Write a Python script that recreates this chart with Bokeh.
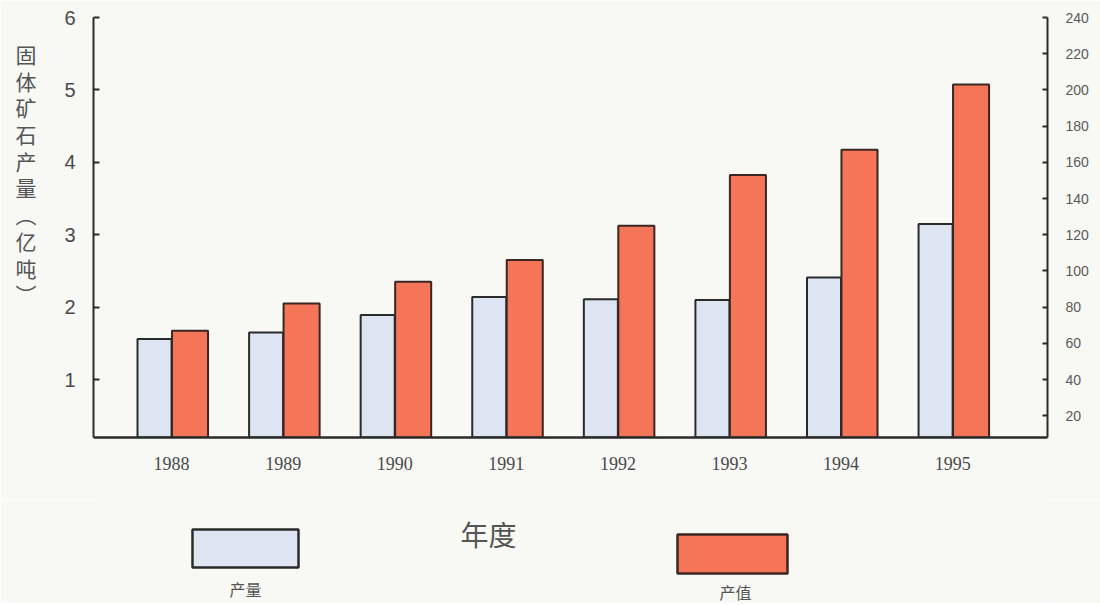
from bokeh.plotting import figure
from bokeh.models import Range1d, LinearAxis, FixedTicker, ColumnDataSource
from bokeh.transform import dodge
from bokeh.layouts import column
from bokeh.core.properties import value
from bokeh.embed import file_html
from bokeh.resources import INLINE

# ---- data ----
years = ["1988", "1989", "1990", "1991", "1992", "1993", "1994", "1995"]
output_vals = [1.56, 1.65, 1.89, 2.14, 2.11, 2.10, 2.41, 3.15]      # 产量 (亿吨), left axis
value_vals = [67, 82, 94, 106, 125, 153, 167, 203]                  # 产值, right axis
series_names = ["产量", "产值"]
left_ticks = [1, 2, 3, 4, 5, 6]
right_ticks = [20, 40, 60, 80, 100, 120, 140, 160, 180, 200, 220, 240]
y_title = "固体矿石产量︵亿吨︶"
x_title = "年度"

BG = "#f8f8f5"
BLUE = "#dde5f3"
RED = "#f47558"
INK = "#2b2b2b"
TXT = "#4a4a4a"

W = 1100
XR = (-0.70, 7.85)

src = ColumnDataSource(dict(idx=list(range(len(years))), output=output_vals, val=value_vals))

p = figure(width=W, height=500, output_backend="svg", toolbar_location=None,
           x_range=Range1d(*XR), y_range=Range1d(0.2, 6.0),
           min_border_left=93, min_border_right=53, min_border_top=17, min_border_bottom=63,
           background_fill_color=BG, border_fill_color=BG, outline_line_color=None)
p.extra_y_ranges = {"val": Range1d(8, 240)}
p.xgrid.visible = False
p.ygrid.visible = False

p.vbar(x=dodge("idx", -0.153, range=p.x_range), top="output", bottom=0, width=0.305,
       source=src, fill_color=BLUE, line_color=INK, line_width=2)
p.vbar(x=dodge("idx", 0.165, range=p.x_range), top="val", bottom=0, width=0.323,
       source=src, y_range_name="val", fill_color=RED, line_color="#3a2622", line_width=2)

# left axis, with the title written as upright stacked characters
la = p.left[0]
la.ticker = FixedTicker(ticks=left_ticks)
la.axis_line_color = INK
la.axis_line_width = 2
la.major_tick_in = 6
la.major_tick_out = 0
la.major_tick_line_color = INK
la.major_tick_line_width = 2
la.minor_tick_line_color = None
la.major_label_text_font = "Liberation Sans"
la.major_label_text_font_size = "20px"
la.major_label_text_color = TXT
la.major_label_standoff = 18
la.axis_label = "\n".join(y_title) + "\n\n\n\n"
la.axis_label_orientation = "horizontal"
la.axis_label_text_font = "Noto Sans CJK SC"
la.axis_label_text_font_size = "21px"
la.axis_label_text_font_style = "normal"
la.axis_label_text_line_height = 0.89
la.axis_label_text_color = "#555555"
la.axis_label_standoff = 25

# right axis
ra = LinearAxis(y_range_name="val", ticker=FixedTicker(ticks=right_ticks))
ra.axis_line_color = INK
ra.axis_line_width = 2
ra.major_tick_in = 5
ra.major_tick_out = 0
ra.major_tick_line_color = INK
ra.major_tick_line_width = 2
ra.minor_tick_line_color = None
ra.major_label_text_font = "Liberation Sans"
ra.major_label_text_font_size = "14px"
ra.major_label_text_color = "#5a5a5a"
ra.major_label_standoff = 18
p.add_layout(ra, "right")

# bottom axis
xa = p.below[0]
xa.ticker = FixedTicker(ticks=list(range(len(years))))
xa.major_label_overrides = {i: y for i, y in enumerate(years)}
xa.axis_line_color = INK
xa.axis_line_width = 2.5
xa.major_tick_line_color = None
xa.minor_tick_line_color = None
xa.major_label_text_font = "Liberation Serif"
xa.major_label_text_font_size = "18px"
xa.major_label_text_color = TXT
xa.major_label_standoff = 13

# ---- bottom strip: x title and legend (frame aligned with the chart frame) ----
q = figure(width=W, height=103, output_backend="svg", toolbar_location=None,
           x_range=Range1d(93, 1047), y_range=Range1d(103, 0),
           x_axis_type=None, y_axis_type=None,
           min_border_left=93, min_border_right=53, min_border_top=0, min_border_bottom=0,
           background_fill_color=BG, border_fill_color=BG, outline_line_color=None)
q.xgrid.visible = False
q.ygrid.visible = False

q.quad(left=[192, 677], right=[298, 787], top=[29, 34], bottom=[67, 73],
       fill_color=[BLUE, RED], line_color=[INK, "#3a2622"], line_width=2.5)
q.text(x=[245, 735], y=[88, 91], text=series_names, text_align="center",
       text_baseline="middle", text_font=value("Noto Sans CJK SC"),
       text_font_size="16px", text_color="#555555")
q.text(x=[488], y=[33], text=[x_title], text_align="center", text_baseline="middle",
       text_font=value("Noto Sans CJK SC"), text_font_size="28px", text_color="#555555")

layout = column(p, q, spacing=0)
open("out.html", "w").write(file_html(layout, INLINE))
